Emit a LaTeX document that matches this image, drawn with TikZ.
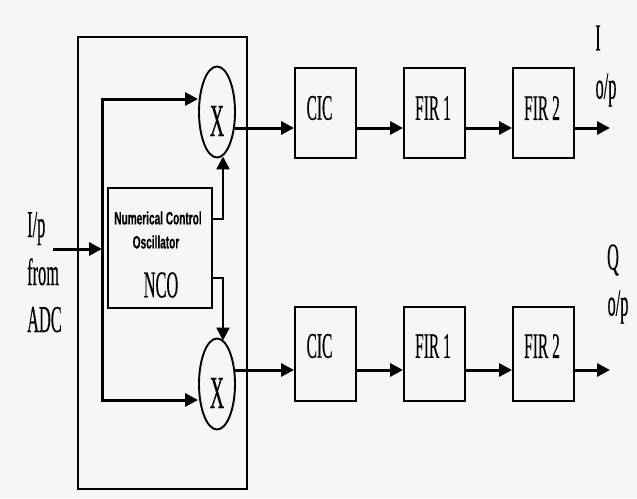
\documentclass[tikz,border=0pt]{standalone}
\usepackage{fontspec}
\setmainfont{Liberation Serif}
\newfontfamily\heavyserif{Liberation Serif}[FakeBold=0.5]
\newfontfamily\ncosans{Liberation Sans Bold}[FakeBold=0.4]
\usetikzlibrary{arrows.meta,shapes.geometric}
\definecolor{bgc}{HTML}{F6F6F6}
\newcommand\cnd[1]{\scalebox{0.43}[1]{#1}}
\newcommand\cns[1]{\scalebox{0.56}[1]{#1}}
\tikzset{
  blk/.style={draw=black, line width=1.9pt, rectangle, minimum width=61pt, minimum height=92pt, inner sep=0pt},
  mix/.style={draw=black, line width=1.9pt, ellipse, minimum width=36pt, minimum height=91pt, inner sep=0pt},
  arr/.style={line width=3pt, -{Triangle[length=13pt,width=13pt]}},
  wire/.style={line width=3pt},
  lbl/.style={font=\heavyserif\fontsize{36}{36}\selectfont, inner sep=0pt},
  biglbl/.style={font=\heavyserif\fontsize{38}{38}\selectfont, inner sep=0pt},
  sanslbl/.style={font=\ncosans\fontsize{18}{18}\selectfont, inner sep=0pt}
}
\begin{document}
\begin{tikzpicture}[x=1pt,y=-1pt]
\fill[bgc] (0,0) rectangle (637,498);
\useasboundingbox (0,0) rectangle (637,498);

% outer frame
\node[draw=black, line width=2pt, minimum width=169pt, minimum height=452pt, inner sep=0pt] (frame) at (162.5,263) {};

% mixers
\node[mix] (mixA) at (217,112) {};
\node[mix] (mixB) at (217,384) {};
\node[font=\heavyserif\fontsize{46}{46}\selectfont, inner sep=0pt] (xA) at (217,121) {\cnd{X}};
\node[font=\heavyserif\fontsize{46}{46}\selectfont, inner sep=0pt] (xB) at (217,393) {\cnd{X}};

% NCO
\node[draw=black, line width=1.9pt, minimum width=104pt, minimum height=120pt, inner sep=0pt] (nco) at (160,248) {};
\node[sanslbl] (nco1) at (158,218) {\cns{Numerical Control}};
\node[sanslbl] (nco2) at (156,242) {\cns{Oscillator}};
\node[biglbl] (nco3) at (161,285) {\cnd{NCO}};

% processing blocks
\node[blk, minimum height=90pt] (cicA) at (325.5,113) {};
\node[blk, minimum height=90pt] (firaA) at (434.5,113) {};
\node[blk, minimum height=90pt] (firbA) at (543.5,113) {};
\node[blk, minimum height=94pt] (cicB) at (325.5,354) {};
\node[blk, minimum height=94pt] (firaB) at (434.5,354) {};
\node[blk, minimum height=94pt] (firbB) at (543.5,354) {};

\node[lbl] (tcicA) at (319.5,108) {\cnd{CIC}};
\node[lbl] (tfiraA) at (433,108) {\cnd{FIR 1}};
\node[lbl] (tfirbA) at (542,108) {\cnd{FIR 2}};
\node[lbl] (tcicB) at (319.5,346) {\cnd{CIC}};
\node[lbl] (tfiraB) at (433,346) {\cnd{FIR 1}};
\node[lbl] (tfirbB) at (542,346) {\cnd{FIR 2}};

% input label
\node[biglbl, anchor=base west] (inp1) at (27,237) {\cnd{I/p}};
\node[biglbl, anchor=base west] (inp2) at (27,285) {\cnd{from}};
\node[biglbl, anchor=base west] (inp3) at (27,332) {\cnd{ADC}};

% output labels
\node[biglbl] (oI) at (598,38) {\cnd{I}};
\node[biglbl] (oIp) at (606,90) {\cnd{o/p}};
\node[biglbl] (oQ) at (613,260) {\cnd{Q}};
\node[biglbl] (oQp) at (618,307) {\cnd{o/p}};

% helper coordinates
\coordinate (rowA) at (0,128);
\coordinate (rowB) at (0,370);
\coordinate (inA) at (53,249);
\coordinate (split) at (102,249);
\coordinate (splitT) at (102,99);
\coordinate (splitB) at (102,400);
\coordinate (ncoUp) at (0,219);
\coordinate (ncoDn) at (0,278);
\coordinate (outA) at (610,128);
\coordinate (outB) at (610,370);

% input and splitting
\draw[arr] (inA) -- (split);
\draw[wire, line cap=rect] (splitT) -- (splitB);
\draw[arr] (splitT) -- (mixA.west |- splitT);
\draw[arr] (splitB) -- (mixB.west |- splitB);

% NCO to mixers
\draw[arr, line width=2.4pt] (nco.east |- ncoUp) -| ([xshift=6pt,yshift=2pt]mixA.south);
\draw[arr, line width=2.4pt] (nco.east |- ncoDn) -| ([xshift=6pt,yshift=-3pt]mixB.north);

% chain I
\draw[arr] ([xshift=-1pt]mixA.east |- rowA) -- (cicA.west |- rowA);
\draw[arr] (cicA.east |- rowA) -- (firaA.west |- rowA);
\draw[arr] (firaA.east |- rowA) -- (firbA.west |- rowA);
\draw[arr] (firbA.east |- rowA) -- (outA);

% chain Q
\draw[arr] ([xshift=-1pt]mixB.east |- rowB) -- (cicB.west |- rowB);
\draw[arr] (cicB.east |- rowB) -- (firaB.west |- rowB);
\draw[arr] (firaB.east |- rowB) -- (firbB.west |- rowB);
\draw[arr] (firbB.east |- rowB) -- (outB);
\end{tikzpicture}
\end{document}
